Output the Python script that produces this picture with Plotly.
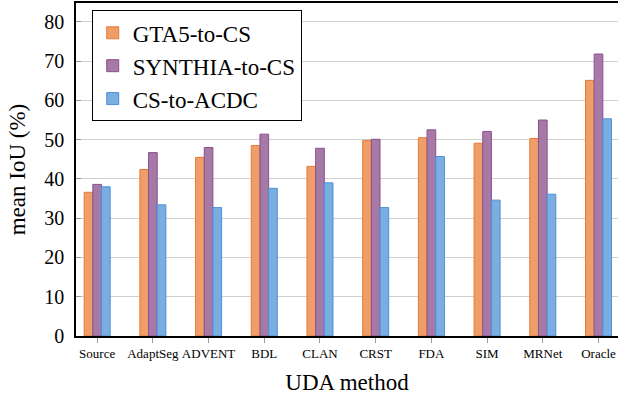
import plotly.graph_objects as go

methods = ["Source", "AdaptSeg", "ADVENT", "BDL", "CLAN", "CRST", "FDA", "SIM", "MRNet", "Oracle"]
gta5_to_cs = [36.6, 42.4, 45.5, 48.5, 43.2, 49.8, 50.5, 49.1, 50.3, 65.1]
synthia_to_cs = [38.6, 46.7, 48.0, 51.4, 47.8, 50.1, 52.5, 52.1, 55.0, 71.8]
cs_to_acdc = [38.0, 33.4, 32.7, 37.6, 39.0, 32.7, 45.7, 34.6, 36.1, 55.3]
y_ticks = [0, 10, 20, 30, 40, 50, 60, 70, 80]

series = [
    ("GTA5-to-CS", gta5_to_cs, "rgba(239,158,106,1)", "#E87A35"),
    ("SYNTHIA-to-CS", synthia_to_cs, "rgba(166,122,166,1)", "#8C4F8C"),
    ("CS-to-ACDC", cs_to_acdc, "rgba(122,174,224,1)", "#4A90DA"),
]

FONT = "Liberation Serif"
Y_RANGE = [0, 84.8]

fig = go.Figure()
for name, vals, fill, line in series:
    fig.add_trace(go.Bar(
        name=name, x=methods, y=vals,
        marker=dict(color=fill, line=dict(color=line, width=1)),
    ))

fig.update_layout(
    width=618, height=402,
    margin=dict(l=76, r=0, t=3, b=66),
    paper_bgcolor="white", plot_bgcolor="white",
    barmode="group", bargap=0.533, bargroupgap=0,
    font=dict(family=FONT, color="black"),
    showlegend=True,
    legend=dict(
        x=0.029, y=0.978, xanchor="left", yanchor="top",
        bgcolor="white", bordercolor="black", borderwidth=1,
        font=dict(family=FONT, size=23, color="black"),
        tracegroupgap=0,
    ),
    xaxis=dict(
        type="category",
        range=[-0.38, 9.35],
        automargin=False,
        showline=True, linecolor="black", linewidth=1.5, mirror=True,
        ticks="outside", ticklen=5, tickcolor="#999999", tickwidth=1,
        tickfont=dict(family=FONT, size=13, color="black"),
        showgrid=False,
        title=dict(text="UDA method", font=dict(family=FONT, size=23, color="black"), standoff=14),
    ),
    yaxis=dict(
        range=Y_RANGE,
        tickvals=y_ticks,
        automargin=False,
        showline=True, linecolor="black", linewidth=1.5,
        ticks="inside", ticklen=5, tickcolor="#999999", tickwidth=1,
        ticklabelstandoff=6,
        tickfont=dict(family=FONT, size=20, color="black"),
        showgrid=True, gridcolor="#D0D0D0", gridwidth=1,
        zeroline=False,
        title=dict(text="mean IoU (%)", font=dict(family=FONT, size=23, color="black"), standoff=12),
    ),
    yaxis2=dict(
        range=Y_RANGE,
        tickvals=y_ticks,
        overlaying="y", side="right", anchor="x",
        automargin=False,
        showticklabels=False, showgrid=False, zeroline=False, showline=False,
        ticks="inside", ticklen=5, tickcolor="#999999", tickwidth=1,
    ),
)

fig.write_html(
    "out.html",
    config={"displayModeBar": False},
    post_script="document.body.style.margin='0';document.body.style.padding='0';document.body.style.overflow='hidden';",
)
